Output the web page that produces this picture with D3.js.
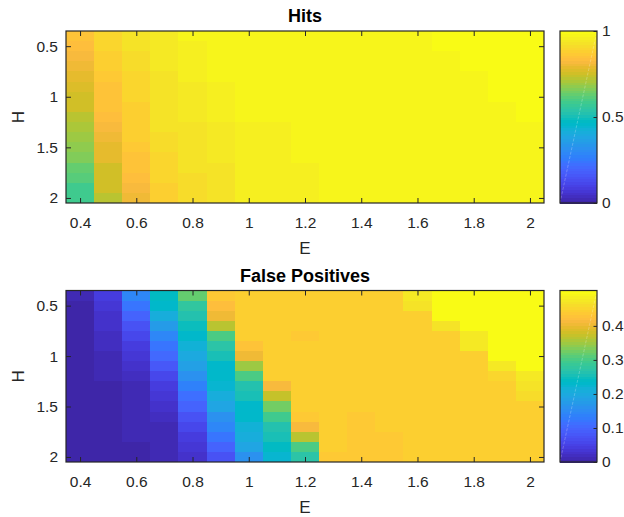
<!DOCTYPE html>
<html>
<head>
<meta charset="utf-8">
<script src="https://cdn.jsdelivr.net/npm/d3@7/dist/d3.min.js"></script>
<style>
  html, body { margin: 0; padding: 0; background: #fff; }
  svg { display: block; }
</style>
</head>
<body>
<svg id="chart" width="624" height="517"></svg>
<script>
// Grid coordinates
const eValues = [0.4, 0.5, 0.6, 0.7, 0.8, 0.9, 1.0, 1.1, 1.2, 1.3, 1.4, 1.5, 1.6, 1.7, 1.8, 1.9, 2.0];
const hValues = [0.4, 0.5, 0.6, 0.7, 0.8, 0.9, 1.0, 1.1, 1.2, 1.3, 1.4, 1.5, 1.6, 1.7, 1.8, 1.9, 2.0];

// Hit rate, one row per H value (columns follow eValues)
const hits = [
  [0.845, 0.905, 0.930, 0.945, 0.977, 0.977, 0.977, 0.977, 0.977, 0.977, 0.977, 0.977, 0.977, 1.000, 1.000, 1.000, 1.000],
  [0.840, 0.895, 0.925, 0.945, 0.961, 0.977, 0.977, 0.977, 0.977, 0.977, 0.977, 0.977, 0.977, 1.000, 1.000, 1.000, 1.000],
  [0.825, 0.890, 0.920, 0.945, 0.961, 0.977, 0.977, 0.977, 0.977, 0.977, 0.977, 0.977, 0.977, 0.977, 1.000, 1.000, 1.000],
  [0.810, 0.878, 0.910, 0.945, 0.961, 0.977, 0.977, 0.977, 0.977, 0.977, 0.977, 0.977, 0.977, 0.977, 1.000, 1.000, 1.000],
  [0.795, 0.870, 0.905, 0.930, 0.961, 0.977, 0.977, 0.977, 0.977, 0.977, 0.977, 0.977, 0.977, 0.977, 0.977, 1.000, 1.000],
  [0.780, 0.857, 0.900, 0.930, 0.952, 0.961, 0.977, 0.977, 0.977, 0.977, 0.977, 0.977, 0.977, 0.977, 0.977, 1.000, 1.000],
  [0.765, 0.850, 0.895, 0.930, 0.952, 0.961, 0.977, 0.977, 0.977, 0.977, 0.977, 0.977, 0.977, 0.977, 0.977, 1.000, 1.000],
  [0.750, 0.845, 0.890, 0.930, 0.952, 0.961, 0.977, 0.977, 0.977, 0.977, 0.977, 0.977, 0.977, 0.977, 0.977, 0.977, 1.000],
  [0.730, 0.835, 0.887, 0.922, 0.952, 0.961, 0.977, 0.977, 0.977, 0.977, 0.977, 0.977, 0.977, 0.977, 0.977, 0.977, 1.000],
  [0.715, 0.825, 0.883, 0.922, 0.930, 0.952, 0.961, 0.961, 0.977, 0.977, 0.977, 0.977, 0.977, 0.977, 0.977, 0.977, 0.977],
  [0.700, 0.810, 0.875, 0.914, 0.930, 0.952, 0.961, 0.961, 0.977, 0.977, 0.977, 0.977, 0.977, 0.977, 0.977, 0.977, 0.977],
  [0.675, 0.795, 0.866, 0.914, 0.930, 0.952, 0.961, 0.961, 0.977, 0.977, 0.977, 0.977, 0.977, 0.977, 0.977, 0.977, 0.977],
  [0.660, 0.787, 0.857, 0.903, 0.922, 0.952, 0.961, 0.961, 0.977, 0.977, 0.977, 0.977, 0.977, 0.977, 0.977, 0.977, 0.977],
  [0.635, 0.765, 0.850, 0.895, 0.922, 0.935, 0.961, 0.961, 0.961, 0.977, 0.977, 0.977, 0.977, 0.977, 0.977, 0.977, 0.977],
  [0.610, 0.757, 0.843, 0.895, 0.910, 0.935, 0.961, 0.961, 0.961, 0.977, 0.977, 0.977, 0.977, 0.977, 0.977, 0.977, 0.977],
  [0.590, 0.750, 0.825, 0.878, 0.910, 0.935, 0.961, 0.961, 0.961, 0.977, 0.977, 0.977, 0.977, 0.977, 0.977, 0.977, 0.977],
  [0.585, 0.730, 0.810, 0.878, 0.910, 0.935, 0.961, 0.961, 0.961, 0.977, 0.977, 0.977, 0.977, 0.977, 0.977, 0.977, 0.977]
];

// False positive rate, one row per H value (columns follow eValues)
const falsePositives = [
  [0.010, 0.040, 0.146, 0.237, 0.317, 0.439, 0.443, 0.447, 0.447, 0.447, 0.447, 0.447, 0.475, 0.504, 0.504, 0.504, 0.504],
  [0.007, 0.034, 0.120, 0.229, 0.283, 0.421, 0.443, 0.442, 0.447, 0.447, 0.447, 0.447, 0.465, 0.504, 0.504, 0.504, 0.504],
  [0.007, 0.024, 0.100, 0.211, 0.266, 0.407, 0.443, 0.442, 0.447, 0.447, 0.447, 0.447, 0.447, 0.504, 0.504, 0.504, 0.504],
  [0.002, 0.024, 0.076, 0.180, 0.247, 0.363, 0.443, 0.442, 0.447, 0.447, 0.447, 0.447, 0.447, 0.469, 0.504, 0.504, 0.504],
  [0.002, 0.018, 0.060, 0.148, 0.231, 0.306, 0.443, 0.442, 0.440, 0.443, 0.447, 0.447, 0.447, 0.447, 0.477, 0.504, 0.504],
  [0.002, 0.018, 0.044, 0.124, 0.215, 0.269, 0.426, 0.442, 0.447, 0.443, 0.447, 0.447, 0.447, 0.447, 0.477, 0.504, 0.504],
  [0.002, 0.013, 0.032, 0.104, 0.204, 0.258, 0.402, 0.442, 0.443, 0.443, 0.447, 0.447, 0.447, 0.447, 0.447, 0.504, 0.504],
  [0.002, 0.013, 0.024, 0.080, 0.188, 0.236, 0.347, 0.442, 0.443, 0.443, 0.447, 0.447, 0.447, 0.447, 0.447, 0.475, 0.504],
  [0.002, 0.013, 0.018, 0.061, 0.164, 0.233, 0.300, 0.442, 0.443, 0.441, 0.447, 0.447, 0.447, 0.447, 0.447, 0.455, 0.477],
  [0.002, 0.002, 0.012, 0.044, 0.138, 0.221, 0.265, 0.415, 0.443, 0.441, 0.447, 0.447, 0.447, 0.447, 0.447, 0.447, 0.469],
  [0.002, 0.002, 0.012, 0.034, 0.117, 0.209, 0.255, 0.375, 0.443, 0.441, 0.447, 0.447, 0.447, 0.447, 0.447, 0.447, 0.460],
  [0.002, 0.002, 0.009, 0.026, 0.098, 0.191, 0.236, 0.330, 0.443, 0.441, 0.447, 0.447, 0.447, 0.447, 0.447, 0.447, 0.447],
  [0.002, 0.002, 0.009, 0.020, 0.074, 0.165, 0.233, 0.295, 0.434, 0.441, 0.440, 0.447, 0.447, 0.447, 0.447, 0.447, 0.447],
  [0.002, 0.002, 0.009, 0.015, 0.060, 0.144, 0.220, 0.265, 0.415, 0.441, 0.440, 0.447, 0.447, 0.447, 0.447, 0.447, 0.447],
  [0.002, 0.002, 0.009, 0.011, 0.044, 0.124, 0.210, 0.252, 0.370, 0.441, 0.440, 0.440, 0.441, 0.447, 0.447, 0.447, 0.447],
  [0.002, 0.002, 0.004, 0.011, 0.033, 0.100, 0.191, 0.237, 0.306, 0.441, 0.440, 0.440, 0.441, 0.447, 0.447, 0.447, 0.447],
  [0.002, 0.002, 0.004, 0.011, 0.024, 0.076, 0.165, 0.228, 0.274, 0.436, 0.440, 0.440, 0.441, 0.447, 0.447, 0.447, 0.447]
];

// Tick values
const xTicks = [0.4, 0.6, 0.8, 1, 1.2, 1.4, 1.6, 1.8, 2];
const yTicks = [0.5, 1, 1.5, 2];
const hitsBarTicks = [0, 0.5, 1];
const fpBarTicks = [0, 0.1, 0.2, 0.3, 0.4];

// Colour limits
const hitsLimits = [0, 1];
const fpLimits = [0, 0.504];

// 64-entry parula colormap
const parula = [
  "#3e26a8", "#402ab4", "#422ec0", "#4432cb", "#4537d5", "#463cde", "#4741e5", "#4747eb",
  "#484df0", "#4852f4", "#4758f8", "#465efb", "#4563fd", "#4269fe", "#3e6fff", "#3875fe",
  "#327cfc", "#2f81fa", "#2e87f7", "#2d8cf3", "#2b91ef", "#2796eb", "#259be8", "#23a0e5",
  "#20a5e3", "#1ca9df", "#18addb", "#12b1d6", "#08b5d0", "#01b8ca", "#02bac3", "#0bbdbd",
  "#19bfb6", "#24c1ae", "#2cc4a7", "#31c69f", "#37c897", "#3fca8e", "#4acb84", "#57cc7a",
  "#64cd6f", "#72cd64", "#81cc59", "#8fcb4e", "#9dc943", "#abc739", "#b9c431", "#c5c22a",
  "#d1bf27", "#dcbd29", "#e6bb2d", "#f0ba36", "#f8ba3d", "#febe3c", "#fec338", "#fec934",
  "#fccf30", "#fad62d", "#f7dc2a", "#f5e327", "#f5e924", "#f6ef20", "#f7f51b", "#f9fb15"
];

const FONT = "'Liberation Sans', Arial, Helvetica, sans-serif";
const INK = "#262626";

const svg = d3.select("#chart");

const plotLeft = 66, plotRight = 544;
const barLeft = 560, barWidth = 37;
const halfCell = 0.05;

const panels = [
  { title: "Hits", values: hits, limits: hitsLimits, barTicks: hitsBarTicks,
    top: 31, bottom: 203, titleY: 21.5, xLabelY: 254 },
  { title: "False Positives", values: falsePositives, limits: fpLimits, barTicks: fpBarTicks,
    top: 290.5, bottom: 462, titleY: 281.5, xLabelY: 513 }
];

const fmt = d3.format("~g");

panels.forEach((p, pi) => {
  const x = d3.scaleLinear().domain([0.35, 2.05]).range([plotLeft, plotRight]);
  const y = d3.scaleLinear().domain([0.35, 2.05]).range([p.top, p.bottom]);
  const color = d3.scaleQuantize().domain(p.limits).range(parula);

  const g = svg.append("g");

  // heatmap cells
  const cells = [];
  p.values.forEach((row, ri) => row.forEach((v, ci) => cells.push({ e: eValues[ci], h: hValues[ri], v })));
  g.append("g")
    .attr("shape-rendering", "crispEdges")
    .selectAll("rect")
    .data(cells)
    .join("rect")
    .attr("x", d => x(d.e - halfCell))
    .attr("y", d => y(d.h - halfCell))
    .attr("width", d => x(d.e + halfCell) - x(d.e - halfCell))
    .attr("height", d => y(d.h + halfCell) - y(d.h - halfCell))
    .attr("fill", d => color(d.v));

  // axes with inward ticks on all four sides
  const styleAxis = sel => {
    sel.select(".domain").remove();
    sel.selectAll("line").attr("stroke", INK).attr("stroke-width", 1);
    sel.selectAll("text").attr("fill", INK).style("font-family", FONT).style("font-size", "15.5px");
  };
  g.append("g").attr("transform", `translate(0,${p.bottom})`)
    .call(d3.axisBottom(x).tickValues(xTicks).tickFormat(fmt).tickSizeInner(-5).tickSizeOuter(0).tickPadding(14.3))
    .call(styleAxis);
  g.append("g").attr("transform", `translate(0,${p.top})`)
    .call(d3.axisTop(x).tickValues(xTicks).tickFormat("").tickSizeInner(-5).tickSizeOuter(0))
    .call(styleAxis);
  g.append("g").attr("transform", `translate(${plotLeft},0)`)
    .call(d3.axisLeft(y).tickValues(yTicks).tickFormat(fmt).tickSizeInner(-5).tickSizeOuter(0).tickPadding(8))
    .call(styleAxis);
  g.append("g").attr("transform", `translate(${plotRight},0)`)
    .call(d3.axisRight(y).tickValues(yTicks).tickFormat("").tickSizeInner(-5).tickSizeOuter(0))
    .call(styleAxis);

  // axes box
  g.append("rect")
    .attr("x", plotLeft).attr("y", p.top)
    .attr("width", plotRight - plotLeft).attr("height", p.bottom - p.top)
    .attr("fill", "none").attr("stroke", INK).attr("stroke-width", 1.2);

  // title and axis labels
  g.append("text")
    .attr("x", (plotLeft + plotRight) / 2).attr("y", p.titleY)
    .attr("text-anchor", "middle")
    .style("font-family", FONT).style("font-size", "18px").style("font-weight", "bold")
    .attr("fill", "#000")
    .text(p.title);
  g.append("text")
    .attr("x", (plotLeft + plotRight) / 2).attr("y", p.xLabelY)
    .attr("text-anchor", "middle")
    .style("font-family", FONT).style("font-size", "17px")
    .attr("fill", INK)
    .text("E");
  g.append("text")
    .attr("transform", `translate(24,${(p.top + p.bottom) / 2}) rotate(-90)`)
    .attr("text-anchor", "middle")
    .style("font-family", FONT).style("font-size", "17px")
    .attr("fill", INK)
    .text("H");

  // colorbar
  const bar = d3.scaleLinear().domain(p.limits).range([p.bottom, p.top]);
  const cb = svg.append("g");
  cb.append("g")
    .attr("shape-rendering", "crispEdges")
    .selectAll("rect")
    .data(color.range())
    .join("rect")
    .attr("x", barLeft)
    .attr("width", barWidth)
    .attr("y", c => bar(color.invertExtent(c)[1]))
    .attr("height", c => bar(color.invertExtent(c)[0]) - bar(color.invertExtent(c)[1]) + 0.5)
    .attr("fill", c => c);
  cb.append("line")
    .attr("x1", barLeft).attr("y1", p.bottom)
    .attr("x2", barLeft + barWidth).attr("y2", p.top)
    .attr("stroke", "#fff").attr("stroke-opacity", 0.3).attr("stroke-width", 0.8)
    .attr("stroke-dasharray", "3,1.5");
  cb.append("g").attr("transform", `translate(${barLeft + barWidth},0)`)
    .call(d3.axisRight(bar).tickValues(p.barTicks).tickFormat(fmt).tickSizeInner(-3.5).tickSizeOuter(0).tickPadding(5))
    .call(styleAxis);
  cb.append("rect")
    .attr("x", barLeft).attr("y", p.top)
    .attr("width", barWidth).attr("height", p.bottom - p.top)
    .attr("fill", "none").attr("stroke", INK).attr("stroke-width", 1.2);
});
</script>
</body>
</html>
